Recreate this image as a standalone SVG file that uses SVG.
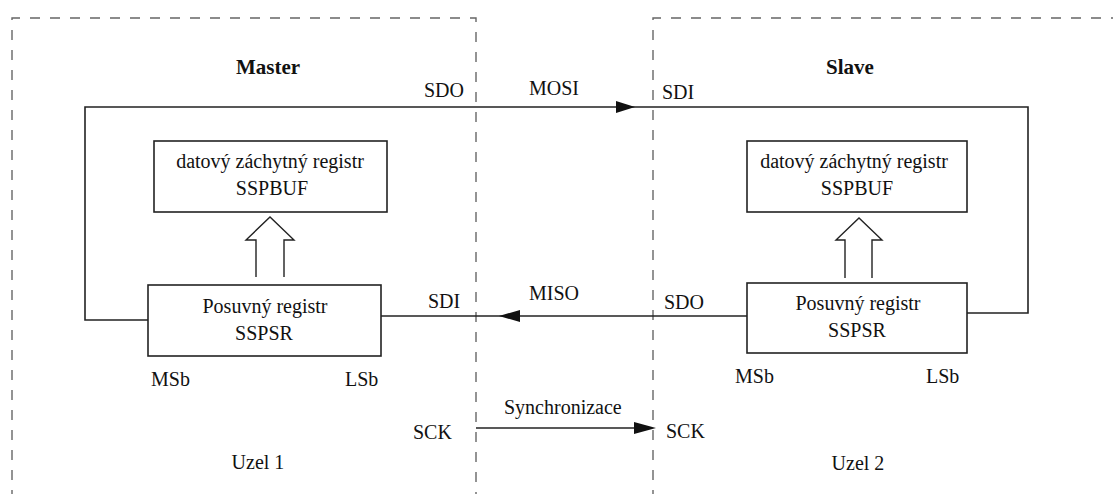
<svg xmlns="http://www.w3.org/2000/svg" width="1113" height="494" viewBox="0 0 1113 494">
<style>
.t{font-family:"Liberation Serif","Times New Roman",serif;font-size:20px;fill:#111}
.b{font-weight:bold;font-size:21px}
.m{text-anchor:middle}
.box{fill:#fff;stroke:#222;stroke-width:1.6}
.ln{fill:none;stroke:#222;stroke-width:1.6}
.dash{fill:none;stroke:#666;stroke-width:1.4;stroke-dasharray:10 10}
.hollow{fill:#fff;stroke:#222;stroke-width:1.4}
</style>
<rect width="1113" height="494" fill="#fff"/>
<g id="uzel1">
<path class="dash" d="M12,500 V18 H476 V500"/>
<text class="t m" x="258" y="469">Uzel 1</text>
<text class="t b m" x="268" y="74">Master</text>
</g>
<g id="uzel2">
<path class="dash" d="M653,500 V18 H1120"/>
<text class="t m" x="858" y="470">Uzel 2</text>
<text class="t b m" x="850" y="74">Slave</text>
</g>
<g id="connectors">
<path class="ln" d="M148,320 H85 V107 H1028 V313 H967"/>
<path d="M616,101 L635,107 L616,113 Z" fill="#111"/>
<line class="ln" x1="381" y1="316" x2="747" y2="316"/>
<path d="M520,310 L499,316 L520,322 Z" fill="#111"/>
<line class="ln" x1="476" y1="428" x2="640" y2="428"/>
<path d="M634,422 L656,428 L634,434 Z" fill="#111"/>
<path class="hollow" d="M256,277 V240 H246 L270,217 L294,240 H284 V277"/>
<path class="hollow" d="M845,278 V240 H836 L859,218 L882,240 H872 V278"/>
<text class="t" x="424" y="97">SDO</text>
<text class="t" x="529" y="95">MOSI</text>
<text class="t" x="662" y="99">SDI</text>
<text class="t" x="428" y="308">SDI</text>
<text class="t" x="529" y="300">MISO</text>
<text class="t" x="664" y="309">SDO</text>
<text class="t" x="413" y="439">SCK</text>
<text class="t" x="504" y="414">Synchronizace</text>
<text class="t" x="666" y="438">SCK</text>
</g>
<g id="sspbuf-master">
<rect class="box" x="154" y="141" width="233" height="71"/>
<text class="t m" x="270" y="168">datový záchytný registr</text>
<text class="t m" x="272" y="195">SSPBUF</text>
</g>
<g id="sspsr-master">
<rect class="box" x="148" y="285" width="233" height="71"/>
<text class="t m" x="265" y="313">Posuvný registr</text>
<text class="t m" x="264" y="340">SSPSR</text>
<text class="t" x="151" y="386">MSb</text>
<text class="t" x="345" y="386">LSb</text>
</g>
<g id="sspbuf-slave">
<rect class="box" x="747" y="141" width="220" height="71"/>
<text class="t m" x="854" y="168">datový záchytný registr</text>
<text class="t m" x="857" y="195">SSPBUF</text>
</g>
<g id="sspsr-slave">
<rect class="box" x="747" y="283" width="220" height="70"/>
<text class="t m" x="858" y="310">Posuvný registr</text>
<text class="t m" x="857" y="337">SSPSR</text>
<text class="t" x="735" y="383">MSb</text>
<text class="t" x="926" y="383">LSb</text>
</g>
</svg>
